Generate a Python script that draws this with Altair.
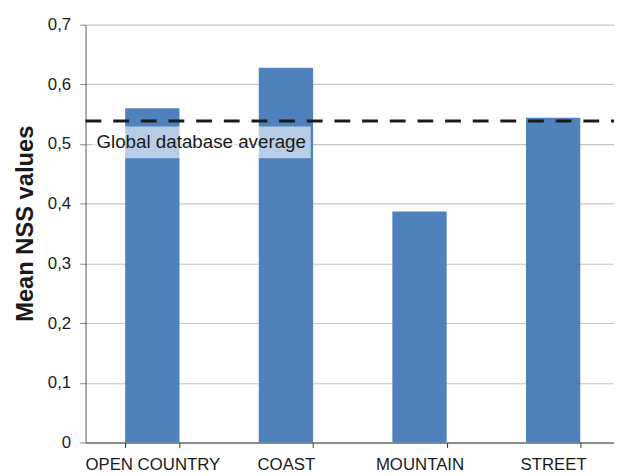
import altair as alt
import pandas as pd

categories = ["OPEN COUNTRY", "COAST", "MOUNTAIN", "STREET"]
nss_values = [0.56, 0.628, 0.387, 0.544]
global_average = [0.5385]
avg_label = ["Global database average"]
label_box_top = [0.5294]
label_box_bottom = [0.4764]
label_text_y = [0.4935]
y_ticks = [0, 0.1, 0.2, 0.3, 0.4, 0.5, 0.6, 0.7]

FONT = "Liberation Sans"
BAR = "#4f81bd"
TXT = "#1a1a1a"

bars_df = pd.DataFrame({"scene": categories, "nss": nss_values})
avg_df = pd.DataFrame({"avg": global_average})
lab_df = pd.DataFrame({"label": avg_label, "top": label_box_top,
                       "bottom": label_box_bottom, "ty": label_text_y})

x_scale = alt.Scale(domain=categories, paddingInner=0.5933, paddingOuter=0.3115, align=0.476)
y_scale = alt.Scale(domain=[0, 0.7], nice=False)

bars = alt.Chart(bars_df).mark_bar(color=BAR).encode(
    x=alt.X("scene:N", scale=x_scale, sort=categories,
            axis=alt.Axis(title=None, labelAngle=0, labelFont=FONT, labelFontSize=17,
                          labelColor=TXT, tickBand="extent", tickSize=5, tickColor="#333333",
                          domainColor="#333333", labelPadding=9, grid=False)),
    y=alt.Y("nss:Q", scale=y_scale,
            axis=alt.Axis(values=y_ticks, title="Mean NSS values", titleFont=FONT,
                          titleFontSize=24, titleFontWeight="bold", titleColor=TXT,
                          titleX=-54, titleY=201, titleBaseline="alphabetic", titleAlign="center",
                          labelExpr="datum.value == 0 ? '0' : replace(format(datum.value, '.1f'), '.', ',')",
                          labelFont=FONT, labelFontSize=17, labelColor=TXT, labelPadding=9,
                          tickSize=6, tickColor="#888888", domainColor="#555555",
                          grid=True, gridColor="#c4c4c4", gridWidth=1.2)),
)

avg_rule = alt.Chart(avg_df).mark_rule(color=TXT, strokeWidth=3, strokeDash=[16, 12]).encode(
    y=alt.Y("avg:Q", scale=y_scale), x=alt.value(0), x2=alt.value(545)
)

box = alt.Chart(lab_df).mark_rect(fill="white", opacity=0.6).encode(
    y=alt.Y("top:Q", scale=y_scale), y2="bottom:Q", x=alt.value(6.5), x2=alt.value(228)
)

text = alt.Chart(lab_df).mark_text(align="left", baseline="alphabetic", font=FONT,
                                   fontSize=19, color=TXT).encode(
    x=alt.value(11), y=alt.Y("ty:Q", scale=y_scale), text="label:N"
)

chart = alt.layer(bars, avg_rule, box, text).properties(
    width=545, height=423,
    autosize=alt.AutoSizeParams(type="none"),
    padding={"left": 78.5, "top": 14, "right": -10, "bottom": 30},
    background="white",
).configure_view(stroke=None)

chart.save("out.html", embed_options={"renderer": "svg", "actions": False})
